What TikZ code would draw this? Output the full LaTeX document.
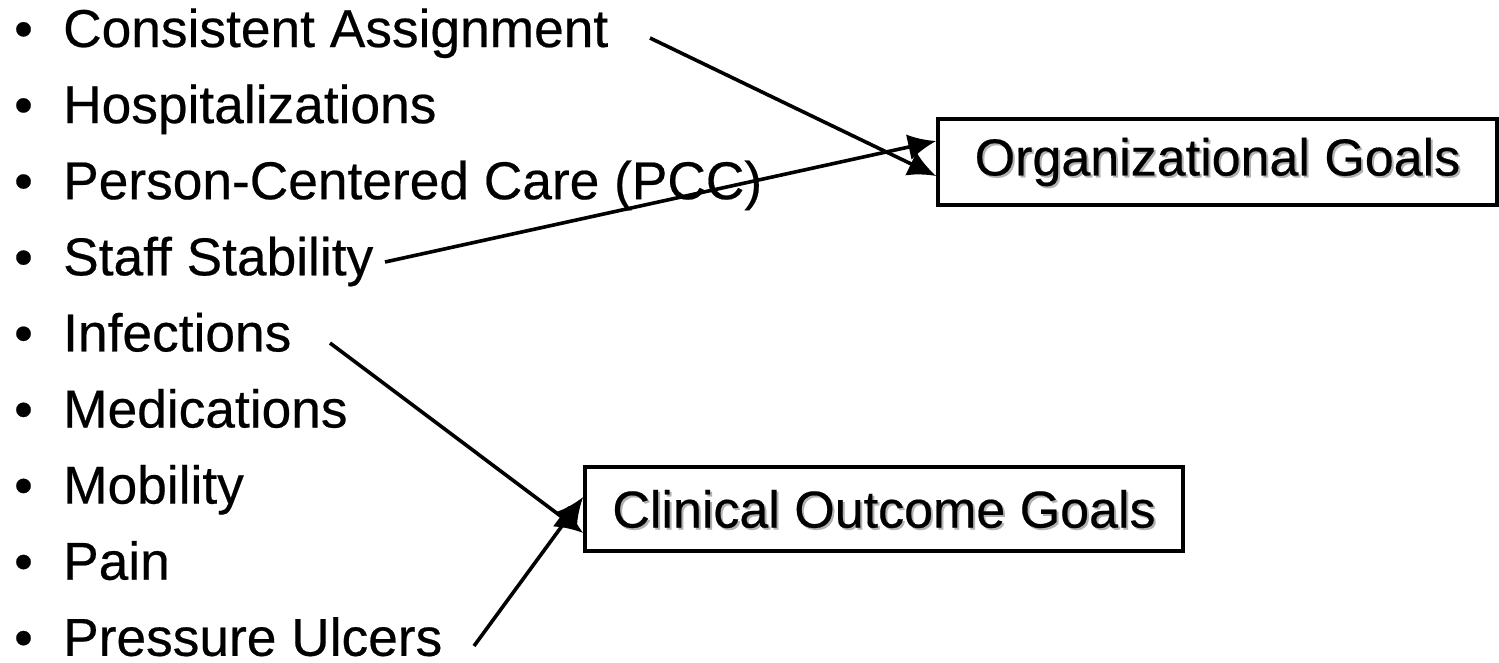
\documentclass[tikz,border=0pt]{standalone}
\usepackage{fontspec}
\setmainfont{Liberation Sans}[FakeBold=0.4]
\usetikzlibrary{arrows.meta}
\begin{document}
\begin{tikzpicture}[x=1pt,y=-1pt,
  item/.style={anchor=base west,inner sep=0pt,text depth=0pt,font=\fontsize{53.3}{60}\selectfont},
  goalbox/.style={draw,line width=3.6pt,minimum width=#1,inner sep=0pt},
  goaltext/.style={font=\fontsize{52}{60}\selectfont},
  arr/.style={line width=3.6pt,-{Latex[length=28pt,width=26pt]}}]
\useasboundingbox (0,0) rectangle (1499,662);
\foreach \t [count=\i from 0] in {Consistent Assignment,Hospitalizations,Person-Centered Care (PCC),Staff Stability,Infections,Medications,Mobility,Pain,Pressure Ulcers}{
  \node[item] (it\i) at (14,{47+76.1*\i}) {\makebox[49pt][l]{•}\t};
}
% Organizational goals box
\node[goalbox=559pt,minimum height=86pt] (og) at (1217.5,162) {};
\node[goaltext,text=black!30] at (1219.5,164) {Organizational Goals};
\node[goaltext] (ogt) at (og.center) {Organizational Goals};
% Clinical goals box
\node[goalbox=598pt,minimum height=84pt] (cg) at (884,509) {};
\node[goaltext,text=black!30] at (886,511) {Clinical Outcome Goals};
\node[goaltext] (cgt) at (cg.center) {Clinical Outcome Goals};
% connectors
\coordinate (s1) at (650,38);
\coordinate (s2) at (385,262);
\coordinate (s3) at (330,343);
\coordinate (s4) at (474,646);
\coordinate (e1) at ([yshift=-14pt]og.west);
\coordinate (e2) at ([yshift=21pt]og.west);
\coordinate (e3) at ([yshift=-24pt]cg.west);
\coordinate (e4) at ([yshift=12pt]cg.west);
\draw[arr] (s1) -- (e1);
\draw[arr] (s2) -- (e2);
\draw[arr] (s3) -- (e3);
\draw[arr] (s4) -- (e4);
\end{tikzpicture}
\end{document}
